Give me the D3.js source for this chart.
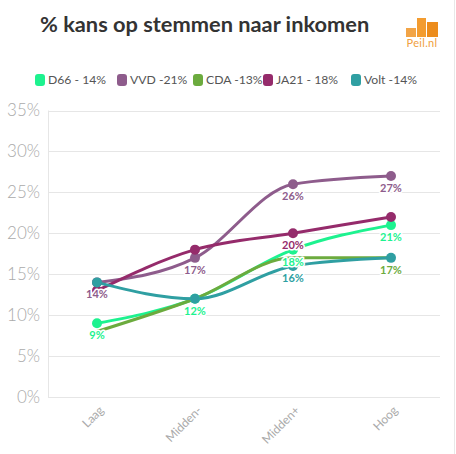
<!DOCTYPE html>
<html><head><meta charset="utf-8">
<script src="https://cdn.jsdelivr.net/npm/d3@7/dist/d3.min.js"></script>
<style>body{margin:0;background:#fff;}svg{display:block;font-family:Lato,"Open Sans",sans-serif;}</style>
</head><body>
<script>
const categories = ["Laag", "Midden-", "Midden+", "Hoog"];
const seriesNames = ["D66", "VVD", "CDA", "JA21", "Volt"];
const legendLabels = ["D66 - 14%", "VVD -21%", "CDA -13%", "JA21 - 18%", "Volt -14%"];
const d66 = [9, 12, 18, 21];
const vvd = [14, 17, 26, 27];
const cda = [8, 12, 17, 17];
const ja21 = [13, 18, 20, 22];
const volt = [14, 12, 16, 17];
const colors = ["#1df28f", "#8e5c8c", "#6cab3e", "#952b6b", "#2f9fa2"];
// which data labels are visible (others hidden by overlap in original)
const d66Labels = [true, true, true, true];
const vvdLabels = [true, true, true, true];
const cdaLabels = [false, false, false, true];
const ja21Labels = [false, false, true, false];
const voltLabels = [false, false, true, false];
const yTicks = [0, 5, 10, 15, 20, 25, 30, 35];
const title = "% kans op stemmen naar inkomen";

const series = [
  {name: seriesNames[0], values: d66, labels: d66Labels, color: colors[0], marker: true},
  {name: seriesNames[1], values: vvd, labels: vvdLabels, color: colors[1], marker: true},
  {name: seriesNames[2], values: cda, labels: cdaLabels, color: colors[2], marker: false},
  {name: seriesNames[3], values: ja21, labels: ja21Labels, color: colors[3], marker: true},
  {name: seriesNames[4], values: volt, labels: voltLabels, color: colors[4], marker: true}
];

const W = 456, H = 454;
const svg = d3.select("body").append("svg").attr("width", W).attr("height", H);

const x = d3.scalePoint().domain(categories).range([48, 440]).padding(0.5);
const y = d3.scaleLinear().domain([0, 35]).range([397, 110.5]);

// right border
svg.append("line").attr("x1", 454.5).attr("x2", 454.5).attr("y1", 0).attr("y2", H)
  .attr("stroke", "#e8e8e8").attr("stroke-width", 1);

// title
svg.append("text").attr("x", 40).attr("y", 32).text(title)
  .attr("font-size", 21.8).attr("font-weight", 700).attr("fill", "#333");

// logo
const logo = svg.append("g");
const bars = [{x: 406, y: 28, w: 10, c: "#f2a446"}, {x: 417, y: 18, w: 9, c: "#f39c30"}, {x: 427, y: 22, w: 11, c: "#ec8c1c"}];
bars.forEach(b => logo.append("rect").attr("x", b.x).attr("y", b.y).attr("width", b.w).attr("height", 37 - b.y).attr("fill", b.c));
logo.append("text").attr("x", 422).attr("y", 47).attr("text-anchor", "middle")
  .attr("font-size", 11).attr("letter-spacing", 0.3).attr("fill", "#f0a040").text("Peil.nl");

// legend
const legendX = [35, 117, 193, 263, 351];
const lg = svg.append("g");
legendLabels.forEach((t, i) => {
  const g = lg.append("g").attr("transform", `translate(${legendX[i]},80)`);
  g.append("rect").attr("x", 0).attr("y", -6).attr("width", 10).attr("height", 12).attr("rx", 3)
    .attr("fill", colors[i]);
  g.append("text").attr("x", 13).attr("y", 0).attr("dy", "0.35em").attr("font-size", 12.2)
    .attr("fill", "#555").text(t);
});

// grid
svg.append("g").selectAll("line").data(yTicks).join("line")
  .attr("x1", 48).attr("x2", 440).attr("y1", d => Math.round(y(d)) + 0.5).attr("y2", d => Math.round(y(d)) + 0.5)
  .attr("stroke", "#e6e6e6");
svg.append("line").attr("x1", 48.5).attr("x2", 48.5).attr("y1", y(35)).attr("y2", y(0))
  .attr("stroke", "#e6e6e6");

// y axis labels
const yAxis = d3.axisLeft(y).tickValues(yTicks).tickFormat(d => d + "%").tickSize(0).tickPadding(8);
const ya = svg.append("g").attr("transform", "translate(48,0)").call(yAxis);
ya.select(".domain").remove();
ya.selectAll("text").attr("font-size", 17).attr("fill", "#aaa").attr("font-family", "Lato, sans-serif").attr("font-weight", 300);

// x axis labels
const xAxis = d3.axisBottom(x).tickSize(0);
const xa = svg.append("g").attr("transform", "translate(0,397)").call(xAxis);
xa.select(".domain").remove();
xa.selectAll("text").attr("font-size", 12).attr("fill", "#aaa").attr("font-family", "Lato, sans-serif")
  .attr("text-anchor", "end").attr("dy", 0)
  .attr("transform", "translate(7,14) rotate(-45)").attr("y", 0);

// lines
const line = d3.line().x((d, i) => x(categories[i])).y(d => y(d)).curve(d3.curveMonotoneX);
const lg2 = svg.append("g");
series.forEach(s => {
  lg2.append("path").datum(s.values).attr("d", line).attr("fill", "none")
    .attr("stroke", s.color).attr("stroke-width", 3).attr("stroke-linecap", "round");
});
series.forEach(s => {
  if (!s.marker) return;
  lg2.append("g").selectAll("circle").data(s.values).join("circle")
    .attr("cx", (d, i) => x(categories[i])).attr("cy", d => y(d)).attr("r", 5).attr("fill", s.color);
});
// data labels
series.forEach(s => {
  lg2.append("g").selectAll("text").data(s.values.map((v, i) => ({v, i})).filter(d => s.labels[d.i])).join("text")
    .attr("x", d => x(categories[d.i])).attr("y", d => y(d.v) + 12).attr("dy", "0.35em")
    .attr("text-anchor", "middle").attr("font-size", 11).attr("font-weight", 700)
    .attr("fill", s.color).attr("stroke", "#fff").attr("stroke-width", 3).attr("paint-order", "stroke")
    .attr("stroke-linejoin", "round").text(d => d.v + "%");
});
</script>
</body></html>
